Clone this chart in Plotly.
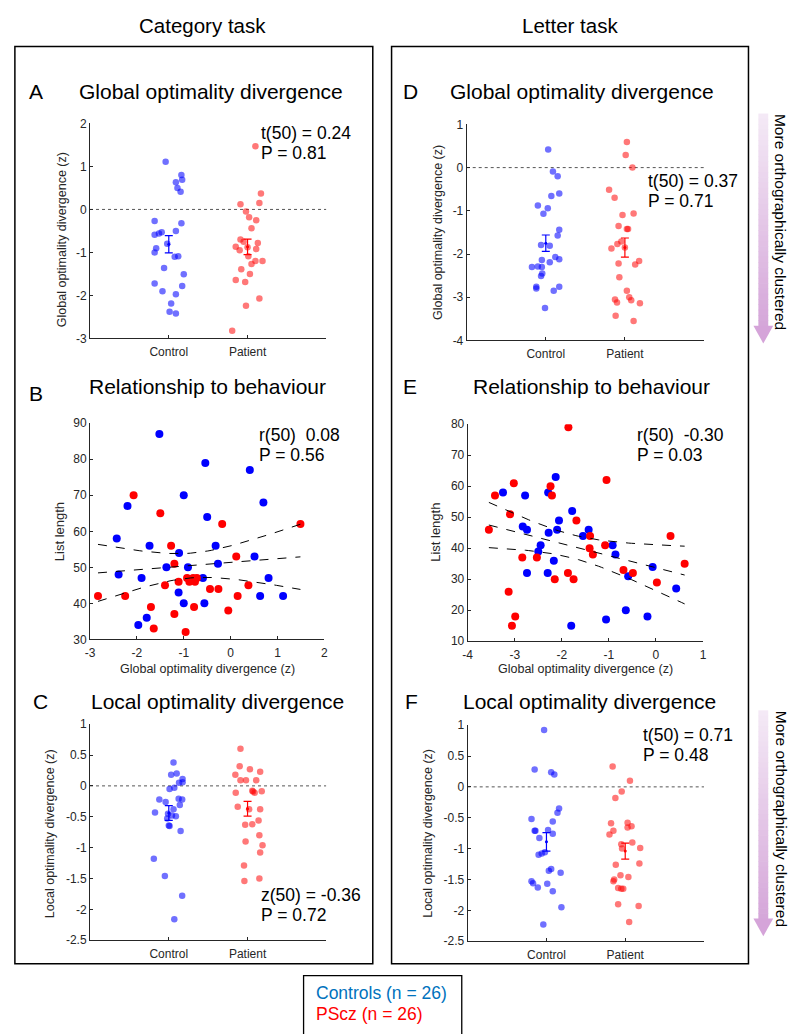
import numpy as np
import plotly.graph_objects as go

W, H = 794, 1034
FONT = "Liberation Sans, Arial, Helvetica, sans-serif"

# ---------------- data ----------------
groups = ["Control", "Patient"]

# Panel A: category task, global optimality divergence
A_ctrl_jit = [-0.04, 0.16, 0.17, 0.09, 0.11, 0.15, -0.18, 0.16, 0.09, -0.09, -0.125, -0.18, -0.16,
              -0.18, 0.075, 0.12, -0.06, 0.19, -0.18, 0.17, -0.08, 0.09, 0.03, 0.01, 0.09, -0.02]
A_ctrl_val = [1.11, 0.80, 0.69, 0.63, 0.50, 0.41, -0.27, -0.32, -0.50, -0.53, -0.56, -0.59, -0.90,
              -1.00, -1.10, -1.09, -1.36, -1.51, -1.72, -1.78, -1.90, -1.97, -2.19, -2.38, -2.42, -0.80]
A_pat_jit = [0.10, 0.17, -0.09, 0.15, -0.02, 0.02, 0.11, 0.05, -0.09, -0.05, -0.15, -0.10, 0.13,
             0.11, 0.01, 0.10, 0.19, 0.05, -0.08, 0.03, -0.15, -0.03, -0.02, 0.15, -0.195, 0.0]
A_pat_val = [1.47, 0.37, 0.12, 0.15, -0.05, -0.18, -0.25, -0.44, -0.70, -0.75, -0.87, -0.95, -0.78,
             -0.92, -1.09, -1.20, -1.20, -1.27, -1.39, -1.50, -1.64, -1.69, -2.24, -2.07, -2.82, -0.88]
A_mean = [-0.81, -0.87]
A_sem = [0.20, 0.18]

# Panel D: letter task, global optimality divergence
D_ctrl_jit = [0.03, 0.09, 0.15, 0.07, 0.17, -0.10, 0.025, -0.03, 0.17, 0.15, -0.06, 0.05, 0.12,
              0.17, -0.05, 0.05, -0.175, -0.10, -0.05, -0.045, -0.06, -0.12, -0.12, 0.17, 0.10, -0.01]
D_ctrl_val = [0.42, -0.09, -0.20, -0.66, -0.60, -0.88, -0.94, -1.07, -1.44, -1.57, -1.79, -1.81, -2.07,
              -2.12, -2.14, -2.19, -2.30, -2.29, -2.30, -2.45, -2.51, -2.76, -2.80, -2.76, -2.85, -3.25]
D_pat_jit = [0.025, 0.01, 0.095, -0.20, -0.13, -0.03, 0.11, -0.08, 0.025, 0.04, -0.045, -0.095, -0.17,
             0.18, 0.13, -0.08, -0.07, 0.025, -0.125, -0.10, 0.055, 0.08, 0.19, -0.117, 0.11, 0.0]
D_pat_val = [0.59, 0.29, 0.00, -0.51, -0.70, -1.10, -1.06, -1.35, -1.42, -1.42, -1.71, -1.77, -1.87,
             -2.16, -2.24, -2.22, -2.54, -2.85, -3.05, -3.12, -3.00, -3.07, -3.14, -3.43, -3.55, -1.85]
D_mean = [-1.75, -1.85]
D_sem = [0.19, 0.22]

# Panel B: category task, list length vs global divergence
B_ctrl_x = [-1.52, -0.54, 0.41, -1.00, 0.70, -2.20, -0.50, -2.43, -1.73, -1.10, -0.32, 0.51, -1.37,
            -0.91, -0.27, -2.39, -1.90, -0.59, 0.81, -1.11, -1.00, -0.56, 0.63, 1.12, -1.79, -1.97]
B_ctrl_y = [87, 79, 77, 70, 68, 67, 64, 58, 56, 54, 56, 53, 50,
            50, 51, 48, 47, 47, 47, 43, 40, 40, 42, 42, 36, 34]
B_pat_x = [-2.07, -1.50, -0.18, 1.49, -1.27, 0.12, -1.20, -0.93, -0.72, -1.11, -0.88, -0.76, -1.40,
           -0.44, -0.26, 0.38, -2.83, -2.25, 0.15, -1.70, -0.78, -0.05, -1.20, -1.64, -0.96, -0.80]
B_pat_y = [70, 65, 62, 62, 56, 53, 51, 47, 47, 46, 46, 46, 45,
           44, 44, 45, 42, 42, 42, 39, 39, 38, 37, 33, 32, 47]

# Panel E: letter task, list length vs global divergence
E_ctrl_x = [-2.13, -3.25, -2.29, -2.78, -1.78, -2.06, -2.83, -2.74, -2.10, -1.43, -2.28, -1.55, -2.45,
            -2.50, -0.92, -0.86, -2.17, -0.07, -2.74, -2.30, -0.59, 0.43, -0.64, -0.18, -1.06, -1.80]
E_ctrl_y = [63, 58, 58, 57, 52, 49, 47, 46, 46, 46, 45, 44, 41,
            39, 41, 38, 36, 34, 32, 32, 31, 27, 20, 18, 17, 15]
E_pat_x = [-1.86, -3.02, -1.05, -2.24, -2.21, -3.42, -3.10, -1.69, -3.55, -1.40, 0.31, -1.08, -1.41,
           -1.34, -2.84, -2.53, 0.61, -0.69, -0.49, -1.87, -2.15, -1.75, 0.02, -3.13, -2.99, -3.06]
E_pat_y = [79, 61, 62, 60, 57, 57, 51, 49, 46, 44, 44, 41, 40,
           38, 37, 37, 35, 33, 32, 32, 30, 30, 29, 26, 18, 15]

# Panel C: category task, local optimality divergence
C_ctrl_jit = [0.06, 0.03, 0.10, 0.175, 0.13, 0.175, 0.07, 0.01, -0.12, -0.04, 0.125, 0.17, 0.14,
              0.06, -0.175, -0.01, 0.04, 0.09, -0.02, 0.0, 0.01, 0.15, -0.19, -0.05, 0.17, 0.07]
C_ctrl_val = [0.38, 0.18, 0.20, 0.11, 0.05, 0.06, -0.03, -0.05, -0.22, -0.26, -0.21, -0.22, -0.31,
              -0.38, -0.43, -0.45, -0.48, -0.49, -0.53, -0.64, -0.65, -0.73, -1.18, -1.46, -1.78, -2.16]
C_pat_jit = [-0.09, -0.10, 0.03, 0.16, -0.155, -0.09, -0.02, 0.11, -0.15, 0.06, 0.09, 0.18, -0.125,
             0.02, 0.16, 0.14, -0.03, 0.06, 0.15, -0.025, 0.19, 0.16, -0.045, -0.04, 0.15, 0.07]
C_pat_val = [0.60, 0.32, 0.27, 0.23, 0.18, 0.09, 0.09, 0.09, -0.11, -0.08, -0.11, -0.085, -0.34,
             -0.38, -0.38, -0.56, -0.63, -0.62, -0.80, -0.90, -0.96, -1.08, -1.29, -1.54, -1.50, -0.09]
C_mean = [-0.44, -0.37]
C_sem = [0.12, 0.12]

# Panel F: letter task, local optimality divergence
F_ctrl_jit = [-0.03, -0.15, 0.06, 0.10, 0.16, 0.14, -0.19, 0.08, -0.15, -0.14, 0.02, 0.08, -0.09,
              -0.02, -0.06, -0.10, 0.06, 0.03, 0.18, -0.19, -0.17, 0.01, -0.11, 0.08, 0.19, -0.04]
F_ctrl_val = [0.92, 0.28, 0.235, 0.20, -0.35, -0.42, -0.52, -0.56, -0.71, -0.71, -0.70, -0.76, -0.83,
              -1.06, -1.08, -1.10, -1.33, -1.36, -1.39, -1.53, -1.56, -1.57, -1.63, -1.69, -1.95, -2.23]
F_pat_jit = [-0.16, 0.06, -0.045, -0.125, -0.18, -0.15, -0.20, 0.03, 0.03, 0.08, 0.09, -0.05, -0.04,
             0.19, -0.12, 0.18, -0.06, 0.04, -0.14, -0.15, -0.09, -0.05, -0.025, -0.09, 0.17, 0.05]
F_pat_val = [0.33, 0.10, -0.075, -0.18, -0.59, -0.71, -0.77, -0.58, -0.66, -0.64, -0.90, -0.93, -1.00,
             -0.99, -1.26, -1.24, -1.43, -1.46, -1.50, -1.53, -1.64, -1.65, -1.65, -1.90, -1.93, -2.19]
F_mean = [-0.89, -1.04]
F_sem = [0.15, 0.13]

# tick labels
ticks_A = [2, 1, 0, -1, -2, -3]
ticks_D = [1, 0, -1, -2, -3, -4]
ticks_CF = [1, 0.5, 0, -0.5, -1, -1.5, -2, -2.5]
ticks_Bx = [-3, -2, -1, 0, 1, 2]
ticks_By = [30, 40, 50, 60, 70, 80, 90]
ticks_Ex = [-4, -3, -2, -1, 0, 1]
ticks_Ey = [10, 20, 30, 40, 50, 60, 70, 80]

stats = {
    "A": ["t(50) = 0.24", "P = 0.81"],
    "D": ["t(50) = 0.37", "P = 0.71"],
    "B": ["r(50)  0.08", "P = 0.56"],
    "E": ["r(50)  -0.30", "P = 0.03"],
    "C": ["z(50) = -0.36", "P = 0.72"],
    "F": ["t(50) = 0.71", "P = 0.48"],
}

# ---------------- helpers ----------------
def px(x):
    return x / W


def py(y):
    return 1 - y / H


def lab(v):
    return "%g" % v


BLUE = "#0000ff"
RED = "#ff0000"
BLUE_L = "rgba(0,0,255,0.56)"
RED_L = "rgba(255,0,0,0.53)"
AX = "#262626"
TICK_SIZE = 12

fig = go.Figure()
layout = dict(
    width=W, height=H, autosize=False, margin=dict(l=0, r=0, t=0, b=0, pad=0),
    paper_bgcolor="white", plot_bgcolor="white", showlegend=False,
    font=dict(family=FONT, color=AX),
)

# axis pixel domains: (x0, x1, y_top, y_bottom, index)
doms = {
    "A": (86, 325, 118, 336, 1),
    "D": (467, 707, 119, 338, 2),
    "B": (86, 323, 422, 641, 3),
    "E": (468, 706, 423, 643, 4),
    "C": (86, 325, 727, 946, 5),
    "F": (468, 707, 728, 947, 6),
}


def axis_common():
    return dict(showline=True, linecolor=AX, linewidth=1, ticks="inside", ticklen=3,
                tickcolor=AX, tickwidth=1, showgrid=False, zeroline=False,
                tickfont=dict(family=FONT, size=TICK_SIZE, color=AX), mirror=False)


def set_axes(key, xrng, xtv, xtt, yrng, ytv):
    x0, x1, yt, yb, n = doms[key]
    sfx = "" if n == 1 else str(n)
    xa = axis_common()
    xa.update(domain=[px(x0), px(x1)], range=xrng, tickvals=xtv, ticktext=xtt,
              anchor="y" + sfx, ticklabelstandoff=2)
    ya = axis_common()
    ya.update(domain=[py(yb), py(yt)], range=yrng, tickvals=ytv, ticktext=[lab(v) for v in ytv],
              anchor="x" + sfx)
    layout["xaxis" + sfx] = xa
    layout["yaxis" + sfx] = ya
    return ("x" + sfx, "y" + sfx)


def jitter_panel(key, cj, cv, pj, pv, mean, sem, yrng, ytv):
    xr, yr = set_axes(key, [0, 3], [1, 2], groups, yrng, ytv)
    fig.add_trace(go.Scatter(x=[0, 3], y=[0, 0], mode="lines", xaxis=xr, yaxis=yr,
                             line=dict(color="#555555", width=1, dash="dot"), hoverinfo="skip"))
    fig.add_trace(go.Scatter(x=[1 + j for j in cj], y=cv, mode="markers", xaxis=xr, yaxis=yr,
                             marker=dict(size=6.5, color=BLUE_L, line=dict(width=0))))
    fig.add_trace(go.Scatter(x=[2 + j for j in pj], y=pv, mode="markers", xaxis=xr, yaxis=yr,
                             marker=dict(size=6.5, color=RED_L, line=dict(width=0))))
    for i, col in enumerate([BLUE, RED]):
        fig.add_trace(go.Scatter(x=[i + 1], y=[mean[i]], mode="markers", xaxis=xr, yaxis=yr,
                                 marker=dict(size=3, color=col),
                                 error_y=dict(type="data", array=[sem[i]], visible=True,
                                              color=col, thickness=1.2, width=4)))


def scatter_panel(key, cx, cy, pxs, pys, xrng, xtv, yrng, ytv):
    xr, yr = set_axes(key, xrng, xtv, [lab(v) for v in xtv], yrng, ytv)
    fig.add_trace(go.Scatter(x=cx, y=cy, mode="markers", xaxis=xr, yaxis=yr,
                             marker=dict(size=8, color=BLUE, line=dict(width=0))))
    fig.add_trace(go.Scatter(x=pxs, y=pys, mode="markers", xaxis=xr, yaxis=yr,
                             marker=dict(size=8, color=RED, line=dict(width=0))))
    # OLS fit with 95% confidence band of the mean, from the plotted data
    xs = np.array(cx + pxs, dtype=float)
    ys = np.array(cy + pys, dtype=float)
    n = len(xs)
    b, a = np.polyfit(xs, ys, 1)
    resid = ys - (a + b * xs)
    s = np.sqrt(np.sum(resid ** 2) / (n - 2))
    grid = np.linspace(xs.min(), xs.max(), 60)
    se = s * np.sqrt(1.0 / n + (grid - xs.mean()) ** 2 / np.sum((xs - xs.mean()) ** 2))
    tcrit = 2.009
    fit = a + b * grid
    for yy in (fit, fit + tcrit * se, fit - tcrit * se):
        fig.add_trace(go.Scatter(x=grid, y=yy, mode="lines", xaxis=xr, yaxis=yr,
                                 line=dict(color="black", width=1, dash="dash"), hoverinfo="skip"))


jitter_panel("A", A_ctrl_jit, A_ctrl_val, A_pat_jit, A_pat_val, A_mean, A_sem, [-3, 2], ticks_A)
jitter_panel("D", D_ctrl_jit, D_ctrl_val, D_pat_jit, D_pat_val, D_mean, D_sem, [-4, 1], ticks_D)
jitter_panel("C", C_ctrl_jit, C_ctrl_val, C_pat_jit, C_pat_val, C_mean, C_sem, [-2.5, 1], ticks_CF)
jitter_panel("F", F_ctrl_jit, F_ctrl_val, F_pat_jit, F_pat_val, F_mean, F_sem, [-2.5, 1], ticks_CF)
scatter_panel("B", B_ctrl_x, B_ctrl_y, B_pat_x, B_pat_y, [-3, 2], ticks_Bx, [30, 90], ticks_By)
scatter_panel("E", E_ctrl_x, E_ctrl_y, E_pat_x, E_pat_y, [-4, 1], ticks_Ex, [10, 80], ticks_Ey)

# ---------------- annotations ----------------
ann = []


def text(x, y, s, size, color="black", xanchor="center", angle=0):
    ann.append(dict(x=px(x), y=py(y), xref="paper", yref="paper", text=s, showarrow=False,
                    xanchor=xanchor, yanchor="middle", textangle=angle, borderpad=0,
                    font=dict(family=FONT, size=size, color=color)))


text(200, 19, "Category task", 20.5)
text(571, 19, "Letter task", 20.5)

for letter, (lx, ly) in {"A": (31, 86), "D": (410, 86), "B": (31, 392),
                         "E": (410, 385), "C": (36, 704), "F": (411, 704)}.items():
    text(lx, ly, letter, 21)

text(208, 86, "Global optimality divergence", 21)
text(584, 86, "Global optimality divergence", 21)
text(205, 385, "Relationship to behaviour", 21)
text(593, 385, "Relationship to behaviour", 21)
text(215, 704, "Local optimality divergence", 21)
text(591, 704, "Local optimality divergence", 21)

stat_pos = {"A": (258, 128), "D": (649, 176), "B": (256, 434), "E": (638, 434),
            "C": (258, 900), "F": (644, 738)}
for k, (sx, sy) in stat_pos.items():
    text(sx, sy, stats[k][0], 17.5, xanchor="left")
    text(sx, sy + 20.5, stats[k][1], 17.5, xanchor="left")

text(57, 236, "Global optimality divergence (z)", 12.5, color=AX, angle=-90)
text(438, 229, "Global optimality divergence (z)", 12.5, color=AX, angle=-90)
text(55, 532, "List length", 13, color=AX, angle=-90)
text(436, 533, "List length", 13, color=AX, angle=-90)
text(45, 838, "Local optimality divergence (z)", 12.5, color=AX, angle=-90)
text(427, 838, "Local optimality divergence (z)", 12.5, color=AX, angle=-90)
text(205, 671, "Global optimality divergence (z)", 12.5, color=AX)
text(587, 671, "Global optimality divergence (z)", 12.5, color=AX)

text(785, 218, "More orthographically clustered", 15.5, angle=90)
text(785, 823, "More orthographically clustered", 15.5, angle=90)

text(314, 1000, "Controls (n = 26)", 17.5, color="#0072BD", xanchor="left")
text(314, 1021, "PScz (n = 26)", 17.5, color="#ff0000", xanchor="left")

layout["annotations"] = ann

# ---------------- shapes ----------------
shapes = []
for (x0, x1) in [(10, 372), (391, 752)]:
    shapes.append(dict(type="rect", xref="paper", yref="paper", x0=px(x0), x1=px(x1),
                       y0=py(970), y1=py(40), line=dict(color="black", width=1.5)))
shapes.append(dict(type="rect", xref="paper", yref="paper", x0=px(302), x1=px(462),
                   y0=py(1045), y1=py(982), line=dict(color="black", width=1.3)))


def lerp(c0, c1, t):
    return "rgb(%d,%d,%d)" % tuple(round(c0[i] + (c1[i] - c0[i]) * t) for i in range(3))


C_TOP = (244, 234, 246)
C_BOT = (213, 166, 217)


def arrow(ytop, yhead, ybot):
    nseg = 40
    for i in range(nseg):
        y0 = ytop + (yhead - ytop) * i / nseg
        y1 = ytop + (yhead - ytop) * (i + 1) / nseg + 0.6
        shapes.append(dict(type="rect", xref="paper", yref="paper", x0=px(762), x1=px(772),
                           y0=py(y1), y1=py(y0), line=dict(width=0),
                           fillcolor=lerp(C_TOP, C_BOT, (i + 0.5) / nseg)))
    path = "M %f %f L %f %f L %f %f Z" % (px(757), py(yhead), px(777), py(yhead), px(767), py(ybot))
    shapes.append(dict(type="path", xref="paper", yref="paper", path=path,
                       fillcolor="rgb(213,164,217)", line=dict(width=0)))


arrow(108, 323, 341)
arrow(713, 924, 942)
layout["shapes"] = shapes

fig.update_layout(**layout)
fig.write_html(
    "out.html",
    config={"displayModeBar": False},
    post_script="document.body.style.margin='0';document.body.style.padding='0';"
                "document.body.style.overflow='hidden';"
                "document.documentElement.style.overflow='hidden';",
)
